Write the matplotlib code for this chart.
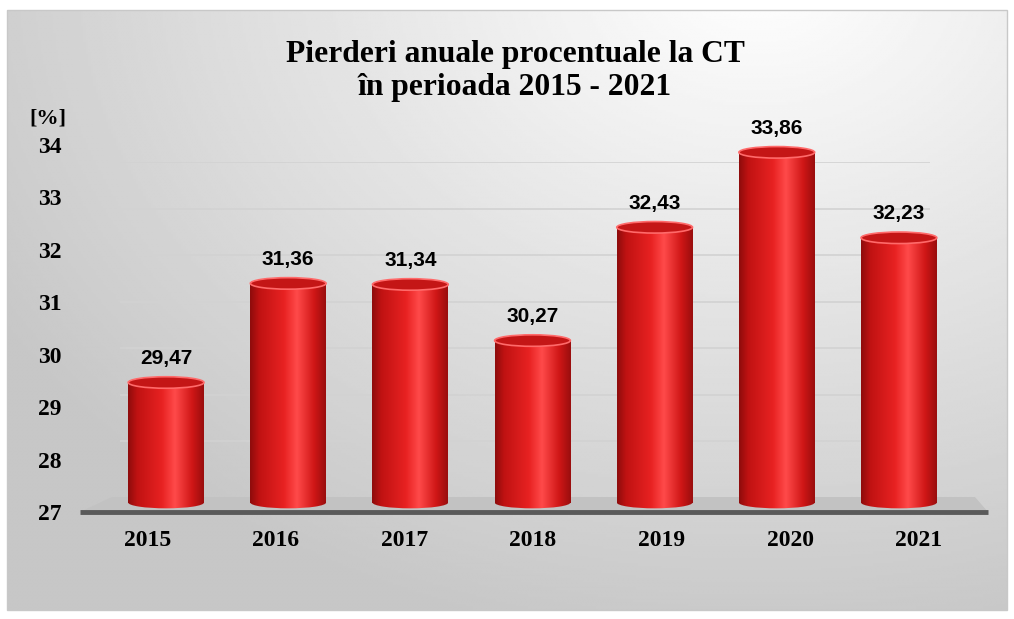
import numpy as np
import matplotlib
matplotlib.use("Agg")
import matplotlib.pyplot as plt
from matplotlib.patches import Rectangle, Ellipse, Polygon
from matplotlib.colors import LinearSegmentedColormap

# Data
years = ["2015", "2016", "2017", "2018", "2019", "2020", "2021"]
losses = [29.47, 31.36, 31.34, 30.27, 32.43, 33.86, 32.23]
y_ticks = [27, 28, 29, 30, 31, 32, 33, 34]

title = "Pierderi anuale procentuale la CT\nîn perioada 2015 - 2021"
unit_label = "[%]"

SERIF = ["Liberation Serif", "DejaVu Serif"]
SANS = ["Liberation Sans", "DejaVu Sans"]

W, H = 1014, 619
fig = plt.figure(figsize=(W / 100, H / 100), dpi=100)


def px_axes(x0, y0, x1, y1, **kw):
    # axes placed by pixel box (top-left origin)
    return fig.add_axes([x0 / W, 1 - y1 / H, (x1 - x0) / W, (y1 - y0) / H], **kw)


# --- background panel with soft gradient ---
bg = fig.add_axes([0, 0, 1, 1], zorder=0)
bg.set_xlim(0, W)
bg.set_ylim(H, 0)
bg.axis("off")
gx, gy = np.meshgrid(np.linspace(0, W, 400), np.linspace(0, H, 250))
d = np.hypot((gx - 760) / 900, (gy + 40) / 700)
shade = np.clip(1.0 - 0.22 * d, 0.78, 1.0)
bg.imshow(shade, extent=(7, 1007, 610, 10), cmap="gray", vmin=0, vmax=1,
          aspect="auto", interpolation="bilinear")
bg.add_patch(Rectangle((7, 10), 1000, 600, fill=False, ec="#c8c8c8", lw=1))

# floor of the 3D plot and the front edge
bg.add_patch(Polygon([(80, 512), (988, 512), (975, 497), (112, 497)],
                     closed=True, fc="#c2c2c2", ec="none", zorder=2))
bg.plot([80, 988], [512, 512], color="#5a5a5a", lw=3.5, zorder=3,
        solid_capstyle="butt")

# --- back wall with gridlines (smaller scale, perspective) ---
wall = px_axes(120, 162, 930, 488, zorder=1)
wall.patch.set_alpha(0)
wall.set_ylim(27, 34)
wall.set_xlim(0, 1)
wall.axis("off")
for t in y_ticks[1:]:
    wall.axhline(t, color="#d2d2d2", lw=1.2)

# --- front axis carrying the category labels ---
front = px_axes(83, 500, 983, 512, zorder=1)
front.patch.set_alpha(0)
front.set_xlim(-0.5, len(years) - 0.5)
front.set_yticks([])
for s in front.spines.values():
    s.set_visible(False)
front.set_xticks(range(len(years)))
front.set_xticklabels(years, family=SERIF, fontweight="bold", fontsize=17)
front.tick_params(axis="x", length=0, pad=13)

# --- main value axis with the cylinders ---
ax = px_axes(105, 145, 960, 512, zorder=4)
ax.patch.set_alpha(0)
for s in ax.spines.values():
    s.set_visible(False)
ax.set_xticks([])
ax.set_yticks(y_ticks)
ax.set_yticklabels([str(t) for t in y_ticks], family=SERIF, fontweight="bold", fontsize=17)
ax.tick_params(axis="y", length=0, pad=31)

# cylinder colour across the bar width
cyl = LinearSegmentedColormap.from_list(
    "cyl", [(0, "#8e0c0c"), (0.12, "#c01212"), (0.45, "#e82222"),
            (0.62, "#ff4a4a"), (0.85, "#cf1616"), (1, "#9a0e0e")])
grad = np.linspace(0, 1, 200).reshape(1, -1)

w = 0.62
cap = 0.22
base = 27.18
for i, v in enumerate(losses):
    x0 = i - w / 2
    body = Rectangle((x0, base), w, v - base, transform=ax.transData)
    im = ax.imshow(grad, extent=(x0, x0 + w, base - cap, v), cmap=cyl,
                   aspect="auto", zorder=4, interpolation="bilinear")
    im.set_clip_path(body)
    bottom = Ellipse((i, base), w, cap, transform=ax.transData)
    im2 = ax.imshow(grad, extent=(x0, x0 + w, base - cap, v), cmap=cyl,
                    aspect="auto", zorder=4, interpolation="bilinear")
    im2.set_clip_path(bottom)
    ax.add_patch(Ellipse((i, v), w, cap, fc="#c41616", ec="#ff6a6a", lw=1.2, zorder=5))
    ax.annotate(f"{v:.2f}".replace(".", ","), (i, v), xytext=(0, 17.5),
                textcoords="offset points", ha="center", va="center",
                family=SANS, fontweight="bold", fontsize=15, zorder=6,
                annotation_clip=False)

ax.set_xlim(-0.5, len(losses) - 0.5)
ax.set_ylim(27, 34)

fig.text(515 / W, 1 - 71 / H, title, ha="center", va="center",
         family=SERIF, fontweight="bold", fontsize=22.7, linespacing=1.2)
fig.text(48 / W, 1 - 118 / H, unit_label, ha="center", va="center",
         family=SERIF, fontweight="bold", fontsize=16)

fig.savefig("out.png", dpi=100)
